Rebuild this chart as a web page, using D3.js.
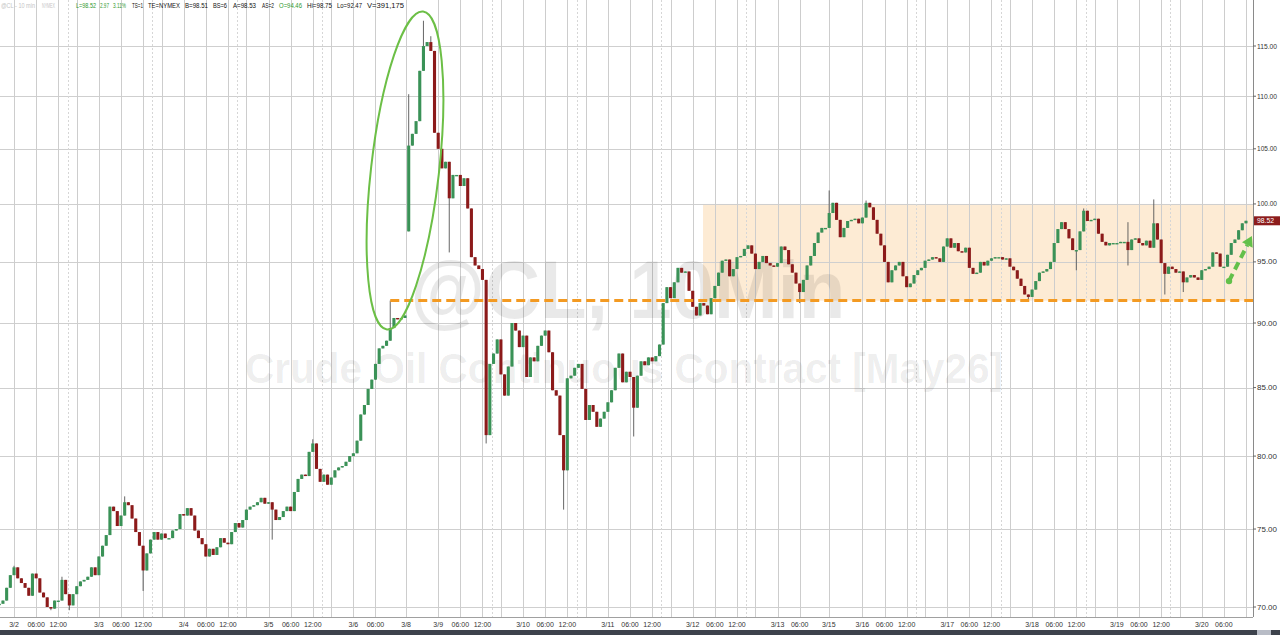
<!DOCTYPE html>
<html><head><meta charset="utf-8">
<script src="https://cdn.jsdelivr.net/npm/d3@7"></script>
<style>
html,body{margin:0;padding:0;background:#fff;overflow:hidden;}
svg{display:block;font-family:"Liberation Sans",Arial,sans-serif;}
</style></head><body>
<svg id="chart" width="1280" height="635"></svg>
<script>
// ---------------- DATA ----------------
// hourly closes of @CL (May26), one per trading-hour slot, starting at slot -4 (slot 0 = 3/2 00:00)
const firstSlot = -4;
const closes = [
 70.2,70.4,71.2,72.0,72.5,71.8,71.5,71.2,70.7,72.1,71.8,70.9,70.6,70.0,
 69.9,70.4,70.4,71.7,70.8,70.1,70.8,71.3,71.6,71.7,
 71.9,72.5,72.0,73.2,73.9,74.6,76.5,76.2,75.2,75.9,
 76.8,76.6,75.7,74.8,73.9,72.3,73.4,74.3,74.8,74.3,
 74.7,74.4,74.4,74.9,75.0,76.0,75.9,76.4,75.9,74.9,
 74.4,74.0,73.2,73.7,73.3,73.8,74.4,74.1,74.0,74.8,
 75.4,75.1,75.6,76.3,76.5,76.6,76.8,77.1,76.7,76.8,
 76.3,75.6,75.8,76.2,76.5,76.2,77.5,78.4,78.7,78.6,
 80.3,80.9,79.1,78.2,78.7,78.0,78.5,79.0,79.2,79.3,
 79.6,80.0,80.2,81.1,83.0,83.7,84.9,85.6,86.8,88.0,
 88.2,88.6,89.6,90.4,90.3,90.4,90.6,105.3,106.4,107.6,
 112.5,115.0,115.4,114.5,106.5,105.0,103.2,103.8,100.5,102.6,
 102.6,101.6,102.3,99.6,95.4,94.7,94.4,93.5,81.5,86.8,
 87.6,88.7,86.0,84.4,86.6,90.0,89.4,88.1,89.0,85.8,
 87.3,87.0,88.2,89.0,89.4,87.7,84.8,84.4,81.5,79.0,
 85.7,85.9,86.5,86.8,84.9,82.6,83.7,83.2,82.1,82.7,
 83.2,83.9,84.8,86.5,87.6,85.4,86.2,85.8,83.5,85.9,
 87.0,86.7,87.3,87.0,87.4,88.3,91.6,92.9,92.0,93.3,
 94.5,94.1,94.2,92.6,91.3,90.6,91.6,91.4,90.7,92.0,
 93.0,94.1,95.1,95.2,93.8,94.4,95.4,95.5,96.1,96.4,
 95.7,94.4,95.0,95.5,94.9,94.7,94.6,94.9,96.3,96.0,
 94.8,94.1,93.2,92.5,93.5,94.7,95.5,96.6,97.5,97.9,
 97.9,99.2,100.1,98.6,97.1,97.9,98.5,98.6,98.7,98.3,
 98.8,100.1,99.7,98.6,97.4,96.4,95.0,93.3,94.3,94.7,
 95.0,93.8,92.9,93.2,93.9,94.3,94.5,95.1,95.2,95.4,
 95.3,95.0,96.3,97.0,96.2,96.6,95.9,95.8,96.2,94.5,
 94.0,94.1,95.0,94.7,95.1,95.3,95.4,95.4,95.2,95.3,
 94.6,94.3,93.6,93.0,92.3,92.1,92.7,93.4,94.1,94.2,
 94.4,95.0,96.6,97.8,98.4,97.8,97.0,96.0,96.0,97.6,
 99.4,98.5,98.6,98.7,97.4,96.7,96.4,96.6,96.6,96.6,
 96.7,96.7,96.0,96.9,97.0,96.6,96.4,96.8,96.2,98.3,
 96.9,94.9,94.0,94.6,94.4,94.1,94.2,93.3,93.7,93.9,
 93.7,93.5,94.3,94.4,94.6,95.8,95.7,94.6,94.6,95.6,
 96.6,96.9,97.7,98.3,98.52
];
// weekend gap open
const gapOpenSlots = [107];
const gapOpenValues = [97.6];
// wick extremes
const highSlots = [0,13,30,81,102,107,111,113,221,231,290,302,309];
const highValues = [72.6,71.9,77.2,81.2,91.8,110.2,117.6,116.0,101.2,100.3,99.6,98.4,100.4];
const lowSlots = [10,15,35,70,118,128,149,168,213,275,288,302,312,317];
const lowValues = [69.8,69.8,71.0,74.3,95.8,80.9,76.3,81.4,91.6,91.7,94.3,94.7,92.3,92.5];

// axis labels
const yTicks = [70,75,80,85,90,95,100,105,110,115];
const dayLabels = ["3/2","3/3","3/4","3/5","3/6","3/9","3/10","3/11","3/12","3/13","3/16","3/17","3/18","3/19","3/20"];
const fridayLabels = ["3/6","3/13"];
const weekendLabels = ["3/8","3/15"];
const weekendSlots = [106.3,220.9];
const intradayLabels = ["06:00","12:00"];
const intradayHours = [6,12];
const settleHour = 14.5, sessionBreakHour = 17, hoursPerDay = 23;

// annotations
const supportLevel = 91.8, supportStartSlot = 102;
const rangeTop = 100, rangeBottom = 91.8, rangeStartSlot = 186.8;
const lastPrice = 98.52;
const arrowFrom = {slot:329.4, price:93.4}, arrowTo = {slot:335.6, price:97.2};
const ellipseCenter = {slot:106.0, price:103.0};

// header status line: text, x, width, colour
const headerItems = [
 ["@CL - 10 min",1,34,"#c4c4c4"],["NYMEX",42,13,"#c4c4c4"],["L=98.52",76,20,"#2f9a2f"],["2.97",100,9,"#2f9a2f"],
 ["3.11%",113,13,"#2f9a2f"],["TS=1",132,11,"#111"],["TE=NYMEX",148,32,"#111"],["B=98.51",185,23,"#111"],
 ["BS=6",213,14,"#111"],["A=98.53",233,23,"#111"],["AS=2",262,12,"#111"],["O=94.46",279,23,"#2f9a2f"],
 ["Hi=98.75",307,25,"#111"],["Lo=92.47",337,25,"#111"],["V=391,175",367,37,"#111"]
];

// ---------------- CHART ----------------
const svg = d3.select("#chart");
const W = 1280, H = 635, plotRight = 1253, axisY = 617;
const x = d3.scaleLinear().domain([-3.8, 335.9]).range([0, plotRight]);
const y = d3.scaleLog().domain([70, 115]).range([607, 46]);

// vertical grid + x labels
const vlines = [], xlabels = [];
dayLabels.forEach((lab, d) => {
  const mid = d * hoursPerDay;
  const isFri = fridayLabels.includes(lab);
  const isLast = d === dayLabels.length - 1;
  vlines.push({s: mid, dash: false}); xlabels.push({s: mid, t: lab});
  intradayHours.forEach((hh, k) => {
    if (isFri && hh === 12) return;
    vlines.push({s: mid + hh, dash: false});
    if (x(mid + hh) < plotRight - 12) xlabels.push({s: mid + hh, t: intradayLabels[k]});
  });
  if (isFri) {
    const wi = fridayLabels.indexOf(lab);
    vlines.push({s: weekendSlots[wi], dash: false});
    xlabels.push({s: weekendSlots[wi], t: weekendLabels[wi]});
  } else if (!isLast) {
    vlines.push({s: mid + settleHour, dash: true});
    vlines.push({s: mid + sessionBreakHour, dash: false});
  }
});

// range box (behind everything)
svg.append("rect")
  .attr("x", x(rangeStartSlot)).attr("width", plotRight - x(rangeStartSlot))
  .attr("y", y(rangeTop)).attr("height", y(rangeBottom) - y(rangeTop))
  .attr("fill", "#fdebd4");

// horizontal grid
svg.append("g").selectAll("line").data(yTicks).join("line")
  .attr("x1", 0).attr("x2", plotRight)
  .attr("y1", d => Math.round(y(d)) + 0.5).attr("y2", d => Math.round(y(d)) + 0.5)
  .attr("stroke", "#cfcfcf").attr("stroke-width", 1);

svg.append("g").selectAll("line").data(vlines).join("line")
  .attr("x1", d => Math.round(x(d.s)) + 0.5).attr("x2", d => Math.round(x(d.s)) + 0.5)
  .attr("y1", 0).attr("y2", axisY)
  .attr("stroke", d => d.dash ? "#d6d6d6" : "#cdcdcd")
  .attr("stroke-dasharray", d => d.dash ? "2,2" : null)
  .attr("stroke-width", 1);

// watermark
svg.append("text").attr("x", 628).attr("y", 318).attr("text-anchor", "middle")
  .attr("font-size", 82).attr("font-weight", "bold")
  .attr("textLength", 435).attr("lengthAdjust", "spacingAndGlyphs")
  .attr("fill", "#000").attr("fill-opacity", 0.085).text("@CL, 10Min");
svg.append("text").attr("x", 624).attr("y", 383).attr("text-anchor", "middle")
  .attr("font-size", 42).attr("font-weight", "bold")
  .attr("textLength", 758).attr("lengthAdjust", "spacingAndGlyphs")
  .attr("fill", "#000").attr("fill-opacity", 0.075).text("Crude Oil Continuous Contract [May26]");

// candles
const candles = closes.map((c, i) => {
  const slot = firstSlot + i;
  const gi = gapOpenSlots.indexOf(slot);
  const o = gi >= 0 ? gapOpenValues[gi] : (i === 0 ? c : closes[i - 1]);
  const hi = highSlots.indexOf(slot), li = lowSlots.indexOf(slot);
  return {slot, o, c,
    h: hi >= 0 ? highValues[hi] : Math.max(o, c),
    l: li >= 0 ? lowValues[li] : Math.min(o, c)};
});
const bw = 3.1;
const cg = svg.append("g");
cg.selectAll("line").data(candles).join("line")
  .attr("x1", d => x(d.slot)).attr("x2", d => x(d.slot))
  .attr("y1", d => y(d.h)).attr("y2", d => y(d.l))
  .attr("stroke", "#555").attr("stroke-width", 0.9);
cg.selectAll("rect").data(candles).join("rect")
  .attr("x", d => x(d.slot) - bw / 2).attr("width", bw)
  .attr("y", d => y(Math.max(d.o, d.c)))
  .attr("height", d => Math.max(1.4, Math.abs(y(d.o) - y(d.c))))
  .attr("fill", d => d.c >= d.o ? "#3a9257" : "#8c1a1a");

// support dashed line
svg.append("line")
  .attr("x1", x(supportStartSlot)).attr("x2", plotRight)
  .attr("y1", y(supportLevel)).attr("y2", y(supportLevel))
  .attr("stroke", "#f39a22").attr("stroke-width", 3).attr("stroke-dasharray", "9,5");

// ellipse
const ec = [x(ellipseCenter.slot), y(ellipseCenter.price)];
svg.append("ellipse")
  .attr("cx", 0).attr("cy", 0).attr("rx", 34).attr("ry", 160)
  .attr("transform", `translate(${ec[0]},${ec[1]}) rotate(6.5)`)
  .attr("fill", "none").attr("stroke", "#6cbf46").attr("stroke-width", 2);

// green arrow
const ax0 = x(arrowFrom.slot), ay0 = y(arrowFrom.price), ax1 = x(arrowTo.slot), ay1 = y(arrowTo.price);
const ang = Math.atan2(ay1 - ay0, ax1 - ax0);
const headLen = 10, headW = 6;
const bx = ax1 - headLen * Math.cos(ang), by = ay1 - headLen * Math.sin(ang);
svg.append("line").attr("x1", ax0).attr("y1", ay0).attr("x2", bx).attr("y2", by)
  .attr("stroke", "#63c04a").attr("stroke-width", 4).attr("stroke-dasharray", "8,5");
svg.append("circle").attr("cx", ax0).attr("cy", ay0).attr("r", 3.2).attr("fill", "#63c04a");
svg.append("path").attr("d", `M${ax1},${ay1} L${bx + headW * Math.sin(ang)},${by - headW * Math.cos(ang)} L${bx - headW * Math.sin(ang)},${by + headW * Math.cos(ang)} Z`)
  .attr("fill", "#63c04a");

// axes lines
svg.append("line").attr("x1", plotRight + 0.5).attr("x2", plotRight + 0.5).attr("y1", 0).attr("y2", axisY)
  .attr("stroke", "#8a8a8a").attr("stroke-width", 1);
svg.append("line").attr("x1", 0).attr("x2", plotRight).attr("y1", axisY + 0.5).attr("y2", axisY + 0.5)
  .attr("stroke", "#a0a0a0").attr("stroke-width", 1);

// y axis labels
const yl = svg.append("g");
yl.selectAll("line").data(yTicks).join("line")
  .attr("x1", plotRight).attr("x2", plotRight + 3).attr("y1", d => y(d)).attr("y2", d => y(d))
  .attr("stroke", "#666");
yl.selectAll("text").data(yTicks).join("text")
  .attr("x", plotRight + 4).attr("y", d => y(d) + 2.5).attr("font-size", 7).attr("fill", "#333")
  .attr("textLength", 20).attr("lengthAdjust", "spacingAndGlyphs")
  .text(d => d3.format(".2f")(d));

// last price tag
svg.append("rect").attr("x", plotRight + 1).attr("y", y(lastPrice) - 4.5).attr("width", 26).attr("height", 9)
  .attr("fill", "#8c1c1c");
svg.append("text").attr("x", plotRight + 4).attr("y", y(lastPrice) + 2.5).attr("font-size", 7)
  .attr("textLength", 17).attr("lengthAdjust", "spacingAndGlyphs")
  .attr("fill", "#fff").text(d3.format(".2f")(lastPrice));

// x labels
svg.append("g").selectAll("text").data(xlabels).join("text")
  .attr("x", d => x(d.s)).attr("y", 627).attr("text-anchor", "middle")
  .attr("font-size", 7).attr("fill", "#333").text(d => d.t);

// bottom scrollbar
svg.append("rect").attr("x", 0).attr("y", 630).attr("width", W).attr("height", 5).attr("fill", "#3d424c");
svg.append("rect").attr("x", 1257).attr("y", 630).attr("width", 14).attr("height", 5).attr("fill", "#b8bcc6");

// header
const hg = svg.append("g");
hg.selectAll("text").data(headerItems).join("text")
  .attr("x", d => d[1]).attr("y", 8).attr("font-size", 7).attr("fill", d => d[3])
  .attr("textLength", d => d[2]).attr("lengthAdjust", "spacingAndGlyphs")
  .text(d => d[0]);
</script>
</body></html>
